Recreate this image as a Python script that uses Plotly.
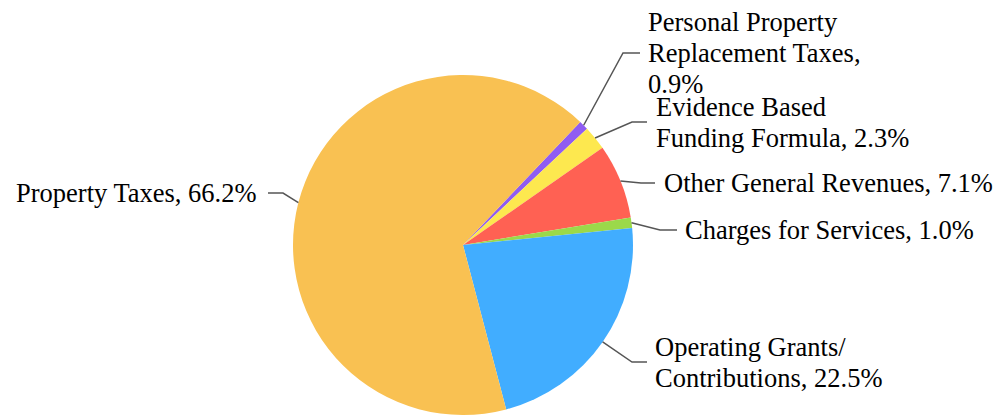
import math

import plotly.graph_objects as go

W, H = 1001, 415
PAGE_OFFSET = 8  # default body margin of the html page
TEXT_PAD = 3  # annotation box padding around the text

# slices in clockwise order, starting at the first slice's edge
categories = [
    "Personal Property Replacement Taxes",
    "Evidence Based Funding Formula",
    "Other General Revenues",
    "Charges for Services",
    "Operating Grants/ Contributions",
    "Property Taxes",
]
shares = [0.9, 2.3, 7.1, 1.0, 22.5, 66.2]
label_lines = [
    ["Personal Property", "Replacement Taxes,", "{}%"],
    ["Evidence Based", "Funding Formula, {}%"],
    ["Other General Revenues, {}%"],
    ["Charges for Services, {}%"],
    ["Operating Grants/", "Contributions, {}%"],
    ["Property Taxes, {}%"],
]
colors = ["#8f5cf2", "#fde84f", "#ff6153", "#9bd94a", "#41adff", "#f9c152"]

START_ANGLE = 43.6  # degrees clockwise from 12 o'clock
CX, CY, R = 463, 245, 170  # pie centre / radius in screen pixels

# label placement (screen pixels): text x, connector y, elbow x, connector end x, side
placements = [
    (649, 53, 623, 640, "right"),
    (657, 122, 632, 647, "right"),
    (665, 183, 641, 655, "right"),
    (686, 230, 660, 677, "right"),
    (656, 362, 632, 647, "right"),
    (256, 193, 283, 268, "left"),
]
LINE_GAP = 31
FONT = dict(family="Liberation Serif, Times New Roman, serif", size=26.5, color="#000000")


def px_x(x):
    return (x - PAGE_OFFSET) / W


def px_y(y):
    return 1 - (y - PAGE_OFFSET) / H


fig = go.Figure(
    go.Pie(
        labels=categories,
        values=shares,
        sort=False,
        direction="clockwise",
        rotation=START_ANGLE,
        marker=dict(colors=colors, line=dict(width=0)),
        textinfo="none",
        hoverinfo="label+percent",
        domain=dict(x=[px_x(CX - R), px_x(CX + R)], y=[px_y(CY + R), px_y(CY - R)]),
        showlegend=False,
    )
)

total = sum(shares)
angle = START_ANGLE
shapes = []
annotations = []
for share, lines, (tx, ly, ex, endx, side) in zip(shares, label_lines, placements):
    span = share / total * 360
    mid = math.radians(angle + span / 2)
    angle += span
    sx = CX + R * math.sin(mid)
    sy = CY - R * math.cos(mid)
    path = "M {},{} L {},{} L {},{}".format(
        px_x(sx), px_y(sy), px_x(ex), px_y(ly), px_x(endx), px_y(ly)
    )
    shapes.append(
        dict(type="path", path=path, xref="paper", yref="paper",
             line=dict(color="#555555", width=1.5))
    )
    ax = tx - TEXT_PAD if side == "right" else tx + TEXT_PAD
    n = len(lines)
    for i, text in enumerate(lines):
        y = ly + (i - (n - 1) / 2) * LINE_GAP
        annotations.append(
            dict(
                text=text.format(share),
                x=px_x(ax), y=px_y(y), xref="paper", yref="paper",
                xanchor="left" if side == "right" else "right",
                yanchor="middle", showarrow=False, font=FONT,
            )
        )

fig.update_layout(
    width=W,
    height=H,
    margin=dict(l=0, r=0, t=0, b=0),
    paper_bgcolor="white",
    shapes=shapes,
    annotations=annotations,
)

fig.write_html("out.html")
